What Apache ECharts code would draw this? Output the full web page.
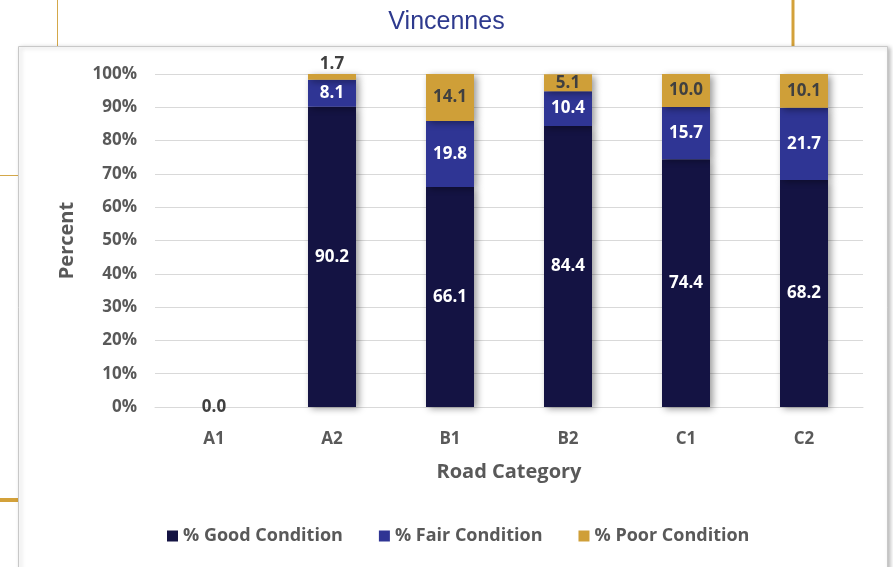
<!DOCTYPE html>
<html>
<head>
<meta charset="utf-8">
<script src="https://cdn.jsdelivr.net/npm/echarts@6/dist/echarts.min.js"></script>
<style>
html,body{margin:0;padding:0;background:#fff;}
#chart{width:893px;height:567px;}
</style>
</head>
<body>
<div id="chart"></div>
<script>
const categories = ['A1', 'A2', 'B1', 'B2', 'C1', 'C2'];
const goodValues = [0.0, 90.2, 66.1, 84.4, 74.4, 68.2];
const fairValues = [null, 8.1, 19.8, 10.4, 15.7, 21.7];
const poorValues = [null, 1.7, 14.1, 5.1, 10.0, 10.1];
const seriesNames = ['% Good Condition', '% Fair Condition', '% Poor Condition'];
const yTicks = [0, 10, 20, 30, 40, 50, 60, 70, 80, 90, 100];

const colors = ['#141343', '#2F3594', '#CF9F38'];
const fontFam = '"Open Sans", "Noto Sans", sans-serif';
const grey = '#595959';
const labelDark = '#404040';

function makeData(vals, idx) {
  return vals.map(v => {
    if (v === null) return '-';
    const item = { value: v };
    if (idx === 0 && v === 0) item.label = { color: labelDark };
    if (idx === 2 && v < 3) item.label = { position: 'top', distance: 1, color: labelDark };
    return item;
  });
}

const allVals = [goodValues, fairValues, poorValues];
const labelColors = ['#ffffff', '#ffffff', labelDark];

const chart = echarts.init(document.getElementById('chart'), null, { renderer: 'canvas' });
chart.setOption({
  animation: false,
  backgroundColor: '#ffffff',
  title: {
    text: 'Vincennes',
    left: 'center',
    top: 5,
    textStyle: { fontFamily: '"Liberation Sans", Arial, sans-serif', fontSize: 25, fontWeight: 'normal', color: '#2E3A8E' }
  },
  graphic: [
    { type: 'line', shape: { x1: 57.5, y1: 0, x2: 57.5, y2: 46 }, style: { stroke: '#D4A84A', lineWidth: 1 }, z: -5 },
    { type: 'line', shape: { x1: 793, y1: 0, x2: 793, y2: 46 }, style: { stroke: '#D3A13A', lineWidth: 3 }, z: -5 },
    { type: 'line', shape: { x1: 0, y1: 175.5, x2: 18, y2: 175.5 }, style: { stroke: '#D4A84A', lineWidth: 1 }, z: -5 },
    { type: 'line', shape: { x1: 0, y1: 500, x2: 18, y2: 500 }, style: { stroke: '#D3A13A', lineWidth: 4 }, z: -5 },
    { type: 'rect', shape: { x: 18.5, y: 46.5, width: 869, height: 540 },
      style: { fill: '#ffffff', stroke: '#c8c8c8', lineWidth: 1, shadowColor: 'rgba(0,0,0,0.25)', shadowBlur: 4, shadowOffsetX: 2, shadowOffsetY: 1 }, z: -4 }
  ],
  grid: { left: 155, right: 30, top: 74, bottom: 160, containLabel: false },
  legend: {
    bottom: 17,
    left: 162,
    itemWidth: 11,
    itemHeight: 11,
    itemGap: 36,
    icon: 'rect',
    textStyle: { fontFamily: fontFam, fontSize: 18, fontWeight: 'bold', color: grey },
    data: seriesNames
  },
  xAxis: {
    type: 'category',
    data: categories,
    name: 'Road Category',
    nameLocation: 'middle',
    nameGap: 55,
    nameTextStyle: { fontFamily: fontFam, fontSize: 20, fontWeight: 'bold', color: grey },
    axisLine: { show: true, lineStyle: { color: '#d9d9d9' } },
    axisTick: { show: false },
    axisLabel: { fontFamily: fontFam, fontSize: 17, fontWeight: 'bold', color: grey, margin: 24 }
  },
  yAxis: {
    type: 'value',
    min: 0,
    max: 100,
    interval: 10,
    name: 'Percent',
    nameLocation: 'middle',
    nameGap: 78,
    nameTextStyle: { fontFamily: fontFam, fontSize: 20, fontWeight: 'bold', color: grey },
    axisLine: { show: false },
    axisTick: { show: false },
    splitLine: { lineStyle: { color: '#d9d9d9', width: 1 } },
    axisLabel: {
      fontFamily: fontFam, fontSize: 17, fontWeight: 'bold', color: grey, margin: 18,
      formatter: v => (yTicks.indexOf(v) >= 0 ? v + '%' : '')
    }
  },
  series: seriesNames.map((name, i) => ({
    name: name,
    type: 'bar',
    stack: 'total',
    barWidth: 48,
    data: makeData(allVals[i], i),
    itemStyle: {
      color: colors[i],
      shadowColor: 'rgba(0,0,0,0.4)',
      shadowBlur: 7,
      shadowOffsetX: 3,
      shadowOffsetY: 2
    },
    label: {
      show: true,
      position: 'inside',
      fontFamily: fontFam,
      fontSize: 17,
      fontWeight: 'bold',
      color: labelColors[i],
      formatter: p => (typeof p.value === 'number' ? p.value.toFixed(1) : '')
    }
  }))
});
</script>
</body>
</html>
